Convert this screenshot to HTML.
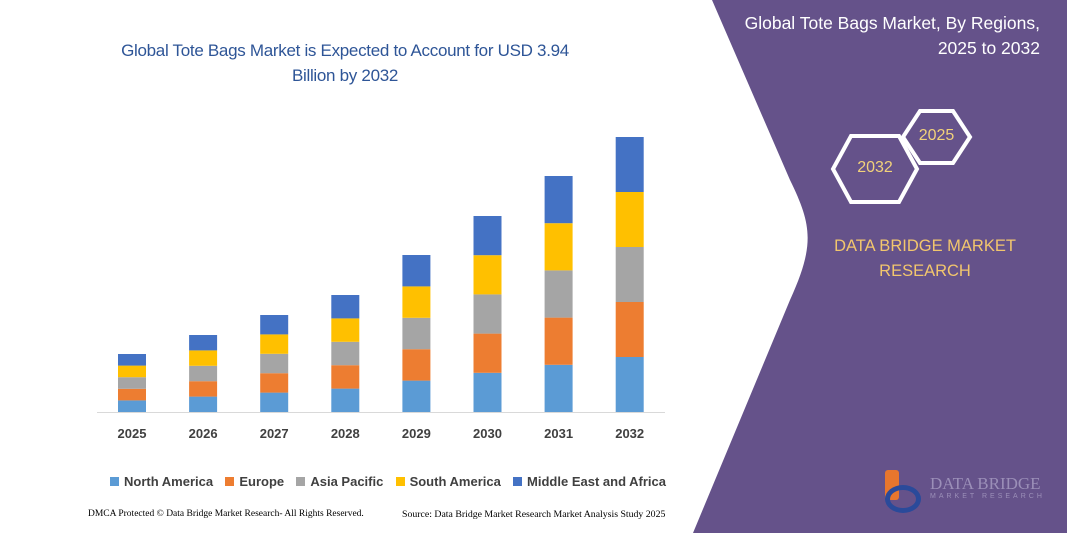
<!DOCTYPE html>
<html><head><style>
body{margin:0;width:1067px;height:533px;overflow:hidden;background:#fff;font-family:"Liberation Sans",sans-serif;position:relative}
.t{position:absolute;white-space:nowrap}
</style></head><body>
<svg width="1067" height="533" style="position:absolute;left:0;top:0">
<path d="M712,0 L1067,0 L1067,533 L693,533 L790,300 C815,245 812,225 790,180 Z" fill="#65528a"/>
<g stroke="#fff" stroke-width="4" fill="none">
<polygon points="851,136 899,136 917,169 899,202 851,202 833,169"/>
<polygon points="920,111 953,111 970,137 953,163 920,163 903,137"/>
</g>
<line x1="97" y1="412.5" x2="665" y2="412.5" stroke="#d9d9d9" stroke-width="1"/>
<g id="bars"></g>
</svg>
<div class="t" style="left:95px;top:38px;width:500px;text-align:center;font-size:17px;color:#2e5597;line-height:25px;white-space:normal;letter-spacing:-0.3px">Global Tote Bags Market is Expected to Account for USD 3.94<br>Billion by 2032</div>
<div class="t" style="right:27px;top:11px;text-align:right;font-size:17.5px;color:#fff;line-height:25px">Global Tote Bags Market, By Regions,<br>2025 to 2032</div>
<div class="t" style="left:833px;top:159px;width:84px;text-align:center;font-size:16px;color:#f2d27a">2032</div>
<div class="t" style="left:903px;top:127px;width:67px;text-align:center;font-size:16px;color:#f2d27a">2025</div>
<div class="t" style="left:815px;top:234px;width:220px;text-align:center;font-size:16.5px;color:#f2c66d;line-height:25px">DATA BRIDGE MARKET<br>RESEARCH</div>
<div class="t" style="left:930px;top:474px;font-size:17px;color:#9b8fb8;font-family:'Liberation Serif',serif">DATA BRIDGE</div>
<div class="t" style="left:930px;top:493px;font-size:7px;color:#9b8fb8;letter-spacing:3px">MARKET RESEARCH</div>
<div class="t" style="left:885px;top:470px;width:14px;height:30px;background:#e8762d;border-radius:3px"></div>
<div class="t" style="left:885px;top:485px;width:36px;height:28px;border-radius:50%;border:5px solid #2a4a9a;box-sizing:border-box"></div>
<div id="lbl"></div>
<div class="t" style="left:110px;top:474px;font-size:13px;font-weight:bold;color:#404040;display:flex;gap:5px;align-items:center">
<span style="width:9px;height:9px;background:#5b9bd5"></span>North America&nbsp;&nbsp;
<span style="width:9px;height:9px;background:#ed7d31"></span>Europe&nbsp;&nbsp;
<span style="width:9px;height:9px;background:#a5a5a5"></span>Asia Pacific&nbsp;&nbsp;
<span style="width:9px;height:9px;background:#ffc000"></span>South America&nbsp;&nbsp;
<span style="width:9px;height:9px;background:#4472c4"></span>Middle East and Africa</div>
<div class="t" style="left:88px;top:509px;font-size:9.5px;color:#000;font-family:'Liberation Serif',serif">DMCA Protected © Data Bridge Market Research- All Rights Reserved.</div>
<div class="t" style="left:402px;top:509px;font-size:9.8px;color:#000;font-family:'Liberation Serif',serif">Source: Data Bridge Market Research Market Analysis Study 2025</div>
<script>
var tops=[354,335,315,295,255,216,176,137],cols=["#5b9bd5","#ed7d31","#a5a5a5","#ffc000","#4472c4"],s="",l="";
for(var i=0;i<8;i++){var x=118+i*71.1,h=(412-tops[i])/5;
for(var k=0;k<5;k++){s+='<rect x="'+x+'" y="'+(412-(k+1)*h)+'" width="28" height="'+h+'" fill="'+cols[k]+'"/>';}
l+='<div class="t" style="left:'+(x-10)+'px;top:426px;width:48px;text-align:center;font-size:13px;font-weight:bold;color:#404040">'+(2025+i)+'</div>';}
document.getElementById("bars").innerHTML=s;document.getElementById("lbl").innerHTML=l;
</script>
</body></html>
